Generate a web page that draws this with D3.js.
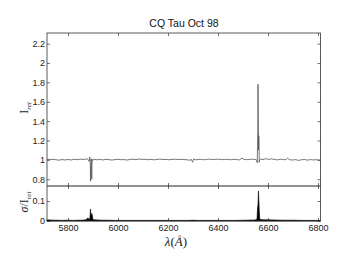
<!DOCTYPE html>
<html>
<head>
<meta charset="utf-8">
<script src="https://cdn.jsdelivr.net/npm/d3@7"></script>
<style>
  body { margin: 0; background: #fff; }
  svg { display: block; }
  .tick text { font-family: "Liberation Sans", Arial, sans-serif; font-size: 9px; fill: #222; }
</style>
</head>
<body>
<svg id="chart" width="341" height="256"></svg>
<script>
// wavelength (A) and relative intensity
const specLam = [5716, 5728, 5740, 5752, 5764, 5776, 5788, 5800, 5812, 5824, 5836, 5848, 5860, 5870, 5878, 5884, 5887, 5889, 5890, 5891, 5893, 5895, 5896, 5897, 5899, 5904, 5915, 5927, 5940, 5952, 5964, 5976, 5988, 6000, 6012, 6024, 6036, 6048, 6060, 6072, 6084, 6096, 6108, 6120, 6132, 6144, 6156, 6168, 6180, 6192, 6204, 6216, 6228, 6240, 6252, 6264, 6276, 6286, 6294, 6298, 6300, 6303, 6308, 6318, 6330, 6342, 6354, 6366, 6378, 6390, 6402, 6414, 6426, 6438, 6450, 6462, 6474, 6486, 6496, 6504, 6514, 6526, 6538, 6548, 6554, 6557, 6559, 6560, 6561, 6562, 6563, 6564, 6565, 6566, 6568, 6572, 6580, 6590, 6602, 6614, 6626, 6638, 6650, 6662, 6672, 6678, 6686, 6698, 6710, 6722, 6734, 6746, 6758, 6770, 6782, 6794, 6810];
const specI = [1.005, 1.002, 1.006, 1.001, 0.997, 1.003, 0.999, 1.004, 0.998, 1.006, 1.002, 1.008, 1.004, 1.007, 1.010, 0.985, 1.030, 0.970, 0.780, 0.930, 1.010, 0.800, 0.960, 1.005, 0.995, 1.006, 1.001, 1.004, 0.999, 1.005, 1.002, 0.998, 1.003, 1.006, 1.001, 1.003, 0.998, 1.004, 1.007, 1.002, 1.009, 1.004, 1.006, 1.001, 1.005, 1.000, 1.004, 1.008, 1.003, 1.005, 1.001, 1.004, 1.007, 1.002, 1.006, 1.003, 1.001, 0.996, 1.004, 0.975, 0.990, 1.010, 1.000, 1.003, 1.006, 1.001, 1.004, 1.008, 1.003, 1.005, 1.007, 1.002, 1.004, 1.006, 1.001, 1.005, 1.003, 1.000, 1.018, 1.006, 1.002, 1.004, 1.007, 1.003, 1.000, 0.970, 1.300, 1.780, 1.500, 1.100, 1.250, 1.200, 0.975, 0.990, 1.003, 1.010, 1.002, 1.012, 1.005, 1.010, 1.004, 1.000, 1.006, 1.003, 1.001, 1.018, 1.002, 0.998, 1.003, 0.994, 1.001, 1.004, 0.997, 1.003, 0.999, 1.002, 0.996];

// sigma / I_rel
const sigLam = [5716, 5730, 5745, 5760, 5775, 5790, 5805, 5820, 5835, 5850, 5862, 5872, 5876, 5880, 5883, 5886, 5888, 5890, 5891, 5893, 5895, 5897, 5899, 5902, 5908, 5920, 5940, 5960, 5990, 6030, 6080, 6130, 6180, 6230, 6280, 6300, 6320, 6370, 6420, 6470, 6510, 6530, 6545, 6552, 6556, 6558, 6559, 6560, 6561, 6562, 6563, 6564, 6565, 6567, 6570, 6580, 6600, 6630, 6660, 6700, 6740, 6780, 6810];
const sigV = [0.006, 0.005, 0.004, 0.004, 0.003, 0.004, 0.004, 0.003, 0.004, 0.004, 0.005, 0.006, 0.012, 0.015, 0.010, 0.006, 0.020, 0.060, 0.045, 0.020, 0.038, 0.030, 0.012, 0.006, 0.006, 0.005, 0.004, 0.004, 0.003, 0.003, 0.003, 0.003, 0.003, 0.003, 0.003, 0.004, 0.003, 0.003, 0.003, 0.003, 0.004, 0.005, 0.005, 0.006, 0.010, 0.060, 0.075, 0.080, 0.120, 0.150, 0.110, 0.090, 0.050, 0.012, 0.008, 0.006, 0.006, 0.005, 0.004, 0.004, 0.003, 0.003, 0.003];

const xTicks = [5800, 6000, 6200, 6400, 6600, 6800];
const yTopTicks = [0.8, 1, 1.2, 1.4, 1.6, 1.8, 2, 2.2];
const yBotTicks = [0, 0.1];

const left = 47, right = 320.5;
const top1 = 33, bot1 = 186, bot2 = 221;

const svg = d3.select("#chart");

const x = d3.scaleLinear().domain([5716, 6810]).range([left, right]);
const yTop = d3.scaleLinear().domain([0.73, 2.31]).range([bot1, top1]);
const yBot = d3.scaleLinear().domain([0, 0.175]).range([bot2, bot1]);

const specData = specLam.map((l, i) => ({ l: l, v: specI[i] }));
const sigData = sigLam.map((l, i) => ({ l: l, v: sigV[i] }));

// clip for the top panel
svg.append("clipPath").attr("id", "clipTop")
  .append("rect").attr("x", left).attr("y", top1).attr("width", right - left).attr("height", bot1 - top1);

svg.append("path")
  .datum(specData)
  .attr("clip-path", "url(#clipTop)")
  .attr("fill", "none")
  .attr("stroke", "#555")
  .attr("stroke-width", 0.8)
  .attr("d", d3.line().x(d => x(d.l)).y(d => yTop(d.v)));

// sigma panel, filled
svg.append("path")
  .datum(sigData)
  .attr("fill", "#000")
  .attr("stroke", "#000")
  .attr("stroke-width", 0.6)
  .attr("d", d3.area().x(d => x(d.l)).y0(yBot(0)).y1(d => yBot(d.v)));

// axes: ticks drawn inward on every side
function tickify(g) {
  g.select(".domain").remove();
  g.selectAll(".tick line").attr("stroke", "#333").attr("stroke-width", 0.7);
}

svg.append("g").attr("transform", `translate(${left},0)`)
  .call(d3.axisLeft(yTop).tickValues(yTopTicks).tickFormat(d3.format("~g")).tickSize(-3).tickPadding(2))
  .call(tickify);
svg.append("g").attr("transform", `translate(${right},0)`)
  .call(d3.axisRight(yTop).tickValues(yTopTicks).tickSize(-3).tickFormat(""))
  .call(tickify);
svg.append("g").attr("transform", `translate(${left},0)`)
  .call(d3.axisLeft(yBot).tickValues(yBotTicks).tickFormat(d3.format("~g")).tickSize(-3).tickPadding(2))
  .call(tickify);
svg.append("g").attr("transform", `translate(${right},0)`)
  .call(d3.axisRight(yBot).tickValues(yBotTicks).tickSize(-3).tickFormat(""))
  .call(tickify);

svg.append("g").attr("transform", `translate(0,${top1})`)
  .call(d3.axisTop(x).tickValues(xTicks).tickSize(-3).tickFormat(""))
  .call(tickify);
svg.append("g").attr("transform", `translate(0,${bot1})`)
  .call(d3.axisBottom(x).tickValues(xTicks).tickSize(-3).tickFormat(""))
  .call(tickify);
svg.append("g").attr("transform", `translate(0,${bot1})`)
  .call(d3.axisTop(x).tickValues(xTicks).tickSize(-3).tickFormat(""))
  .call(tickify);
svg.append("g").attr("transform", `translate(0,${bot2})`)
  .call(d3.axisBottom(x).tickValues(xTicks).tickFormat(d3.format("d")).tickSize(-3).tickPadding(4))
  .call(tickify);

// frames
svg.append("rect").attr("x", left).attr("y", top1).attr("width", right - left).attr("height", bot2 - top1)
  .attr("fill", "none").attr("stroke", "#333").attr("stroke-width", 0.8);
svg.append("line").attr("x1", left).attr("x2", right).attr("y1", bot1).attr("y2", bot1)
  .attr("stroke", "#222").attr("stroke-width", 1);

// title and labels
svg.append("text").attr("x", 184).attr("y", 27).attr("text-anchor", "middle")
  .attr("font-family", "Liberation Sans, Arial, sans-serif").attr("font-size", 10.5).attr("fill", "#111")
  .text("CQ Tau Oct 98");

const serif = "Liberation Serif, Times New Roman, serif";

const yl1 = svg.append("text").attr("transform", "translate(28,108) rotate(-90)")
  .attr("text-anchor", "middle").attr("font-family", serif).attr("font-size", 12).attr("fill", "#222");
yl1.append("tspan").text("I");
yl1.append("tspan").attr("font-size", 7).attr("font-style", "italic").attr("dy", 3).text("rel");

const yl2 = svg.append("text").attr("transform", "translate(28,202) rotate(-90)")
  .attr("text-anchor", "middle").attr("font-family", serif).attr("font-size", 12).attr("fill", "#222");
yl2.append("tspan").attr("font-style", "italic").text("σ");
yl2.append("tspan").text("/I");
yl2.append("tspan").attr("font-size", 7).attr("font-style", "italic").attr("dy", 3).text("rel");

svg.append("text").attr("x", 176).attr("y", 246).attr("text-anchor", "middle")
  .attr("font-family", serif).attr("font-size", 13).attr("fill", "#222")
  .html('<tspan font-style="italic">λ</tspan>(<tspan font-style="italic">Å</tspan>)');
</script>
</body>
</html>
